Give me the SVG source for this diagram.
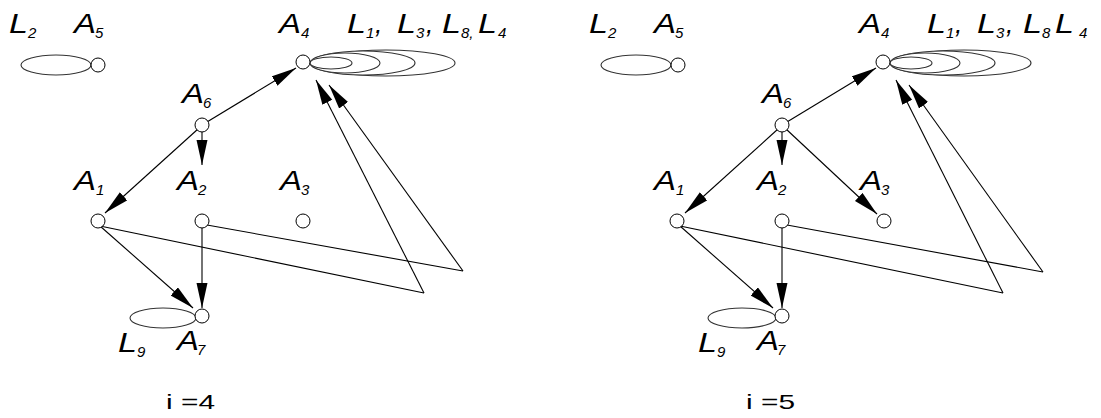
<svg xmlns="http://www.w3.org/2000/svg" width="1101" height="418" viewBox="0 0 1101 418">
<style>
.lbl{font-family:"Liberation Sans",Arial,sans-serif;font-style:italic;font-size:27px;fill:#000}
.sub{font-family:"Liberation Sans",Arial,sans-serif;font-style:italic;font-size:15px;fill:#000}
.cap{font-family:"Liberation Sans",Arial,sans-serif;font-size:21px;fill:#000}
.nd{fill:#fff;stroke:#000;stroke-width:1}
.el{fill:#fff;stroke:#333;stroke-width:1.1}
.ed{stroke:#000;stroke-width:1.1;fill:none}
.ar{stroke:#000;stroke-width:1.1;fill:none;marker-end:url(#ah)}
</style>
<defs>
<marker id="ah" markerUnits="userSpaceOnUse" markerWidth="26" markerHeight="12" refX="25" refY="5.5" orient="auto">
<path d="M0,0 L25,5.5 L0,11 z" fill="#000"/>
</marker>
</defs>
<rect width="1101" height="418" fill="#fff"/>

<!-- LEFT PANEL i=4 -->
<g id="left">
<g id="connectors-left">
<line class="ar" x1="202" y1="125" x2="296" y2="68"/>
<line class="ar" x1="202" y1="131" x2="202" y2="165"/>
<line class="ar" x1="198" y1="129" x2="105" y2="213"/>
<line class="ar" x1="100" y1="226" x2="193" y2="308"/>
<line class="ar" x1="202" y1="227" x2="202" y2="308"/>
<polyline class="ed" points="100,226 424,293"/>
<polyline class="ed" points="207,225 463,271"/>
<line class="ar" x1="424" y1="293" x2="316" y2="80"/>
<line class="ar" x1="463" y1="271" x2="329" y2="85"/>
</g>
<g id="L2-A5-left">
<ellipse class="el" cx="56" cy="65" rx="35" ry="10"/>
<circle class="nd" cx="98" cy="65" r="7"/>
<text class="lbl" x="9" y="33" textLength="19" lengthAdjust="spacingAndGlyphs">L</text><text class="sub" x="28" y="38">2</text>
<text class="lbl" x="74" y="33" textLength="22" lengthAdjust="spacingAndGlyphs">A</text><text class="sub" x="95" y="38">5</text>
</g>
<g id="A4-left">
<ellipse class="el" cx="386" cy="63" rx="69" ry="13"/>
<ellipse class="el" cx="363" cy="63" rx="52" ry="12"/>
<ellipse class="el" cx="345" cy="63" rx="35" ry="10"/>
<ellipse class="el" cx="331" cy="63" rx="21" ry="6"/>
<circle class="nd" cx="303" cy="62" r="7"/>
<text class="lbl" x="279" y="33" textLength="22" lengthAdjust="spacingAndGlyphs">A</text><text class="sub" x="301" y="38">4</text>
<text class="lbl" x="347" y="33" textLength="19" lengthAdjust="spacingAndGlyphs">L</text><text class="sub" x="366" y="38">1</text><text class="lbl" x="375" y="33">,</text>
<text class="lbl" x="397" y="33" textLength="19" lengthAdjust="spacingAndGlyphs">L</text><text class="sub" x="416" y="38">3</text><text class="lbl" x="426" y="33">,</text>
<text class="lbl" x="442" y="33" textLength="19" lengthAdjust="spacingAndGlyphs">L</text><text class="sub" x="461" y="38">8,</text>
<text class="lbl" x="478" y="33" textLength="19" lengthAdjust="spacingAndGlyphs">L</text><text class="sub" x="498" y="38">4</text>
</g>
<g id="A6-left">
<circle class="nd" cx="202" cy="125" r="7"/>
<text class="lbl" x="182" y="103" textLength="22" lengthAdjust="spacingAndGlyphs">A</text><text class="sub" x="203" y="108">6</text>
</g>
<g id="A1-left">
<circle class="nd" cx="98" cy="221" r="7"/>
<text class="lbl" x="74" y="190" textLength="22" lengthAdjust="spacingAndGlyphs">A</text><text class="sub" x="96" y="195">1</text>
</g>
<g id="A2-left">
<circle class="nd" cx="202" cy="221" r="7"/>
<text class="lbl" x="177" y="190" textLength="22" lengthAdjust="spacingAndGlyphs">A</text><text class="sub" x="198" y="195">2</text>
</g>
<g id="A3-left">
<circle class="nd" cx="303" cy="221" r="7"/>
<text class="lbl" x="280" y="190" textLength="22" lengthAdjust="spacingAndGlyphs">A</text><text class="sub" x="301" y="195">3</text>
</g>
<g id="A7-L9-left">
<ellipse class="el" cx="163" cy="318" rx="33" ry="10"/>
<circle class="nd" cx="202" cy="316" r="7"/>
<text class="lbl" x="118" y="352" textLength="19" lengthAdjust="spacingAndGlyphs">L</text><text class="sub" x="137" y="357">9</text>
<text class="lbl" x="177" y="350" textLength="22" lengthAdjust="spacingAndGlyphs">A</text><text class="sub" x="197" y="355">7</text>
</g>
<text class="cap" x="166" y="409" textLength="49" lengthAdjust="spacingAndGlyphs">i =4</text>
</g>

<!-- RIGHT PANEL i=5 -->
<g id="right" transform="translate(580,0)">
<g id="connectors-right">
<line class="ar" x1="202" y1="125" x2="296" y2="68"/>
<line class="ar" x1="202" y1="131" x2="202" y2="165"/>
<line class="ar" x1="198" y1="129" x2="105" y2="213"/>
<line class="ar" x1="206" y1="129" x2="297" y2="214"/>
<line class="ar" x1="100" y1="226" x2="193" y2="308"/>
<line class="ar" x1="202" y1="227" x2="202" y2="308"/>
<polyline class="ed" points="100,226 423,293"/>
<polyline class="ed" points="207,225 463,272"/>
<line class="ar" x1="423" y1="293" x2="316" y2="80"/>
<line class="ar" x1="463" y1="272" x2="329" y2="85"/>
</g>
<g id="L2-A5-right">
<ellipse class="el" cx="56" cy="65" rx="35" ry="10"/>
<circle class="nd" cx="98" cy="65" r="7"/>
<text class="lbl" x="9" y="33" textLength="19" lengthAdjust="spacingAndGlyphs">L</text><text class="sub" x="28" y="38">2</text>
<text class="lbl" x="74" y="33" textLength="22" lengthAdjust="spacingAndGlyphs">A</text><text class="sub" x="95" y="38">5</text>
</g>
<g id="A4-right">
<ellipse class="el" cx="384" cy="63" rx="67" ry="13"/>
<ellipse class="el" cx="363" cy="63" rx="52" ry="12"/>
<ellipse class="el" cx="345" cy="63" rx="35" ry="10"/>
<ellipse class="el" cx="331" cy="63" rx="21" ry="6"/>
<circle class="nd" cx="303" cy="62" r="7"/>
<text class="lbl" x="279" y="33" textLength="22" lengthAdjust="spacingAndGlyphs">A</text><text class="sub" x="301" y="38">4</text>
<text class="lbl" x="347" y="33" textLength="19" lengthAdjust="spacingAndGlyphs">L</text><text class="sub" x="366" y="38">1</text><text class="lbl" x="375" y="33">,</text>
<text class="lbl" x="397" y="33" textLength="19" lengthAdjust="spacingAndGlyphs">L</text><text class="sub" x="416" y="38">3</text><text class="lbl" x="426" y="33">,</text>
<text class="lbl" x="443" y="33" textLength="19" lengthAdjust="spacingAndGlyphs">L</text><text class="sub" x="462" y="38">8</text>
<text class="lbl" x="475" y="33" textLength="19" lengthAdjust="spacingAndGlyphs">L</text><text class="sub" x="499" y="38">4</text>
</g>
<g id="A6-right">
<circle class="nd" cx="202" cy="125" r="7"/>
<text class="lbl" x="182" y="103" textLength="22" lengthAdjust="spacingAndGlyphs">A</text><text class="sub" x="203" y="108">6</text>
</g>
<g id="A1-right">
<circle class="nd" cx="97" cy="221" r="7"/>
<text class="lbl" x="74" y="190" textLength="22" lengthAdjust="spacingAndGlyphs">A</text><text class="sub" x="96" y="195">1</text>
</g>
<g id="A2-right">
<circle class="nd" cx="202" cy="221" r="7"/>
<text class="lbl" x="177" y="190" textLength="22" lengthAdjust="spacingAndGlyphs">A</text><text class="sub" x="198" y="195">2</text>
</g>
<g id="A3-right">
<circle class="nd" cx="304" cy="221" r="7"/>
<text class="lbl" x="280" y="190" textLength="22" lengthAdjust="spacingAndGlyphs">A</text><text class="sub" x="301" y="195">3</text>
</g>
<g id="A7-L9-right">
<ellipse class="el" cx="162" cy="318" rx="34" ry="10"/>
<circle class="nd" cx="202" cy="316" r="7"/>
<text class="lbl" x="118" y="352" textLength="19" lengthAdjust="spacingAndGlyphs">L</text><text class="sub" x="137" y="357">9</text>
<text class="lbl" x="177" y="350" textLength="22" lengthAdjust="spacingAndGlyphs">A</text><text class="sub" x="197" y="355">7</text>
</g>
<text class="cap" x="166" y="409" textLength="49" lengthAdjust="spacingAndGlyphs">i =5</text>
</g>
</svg>
